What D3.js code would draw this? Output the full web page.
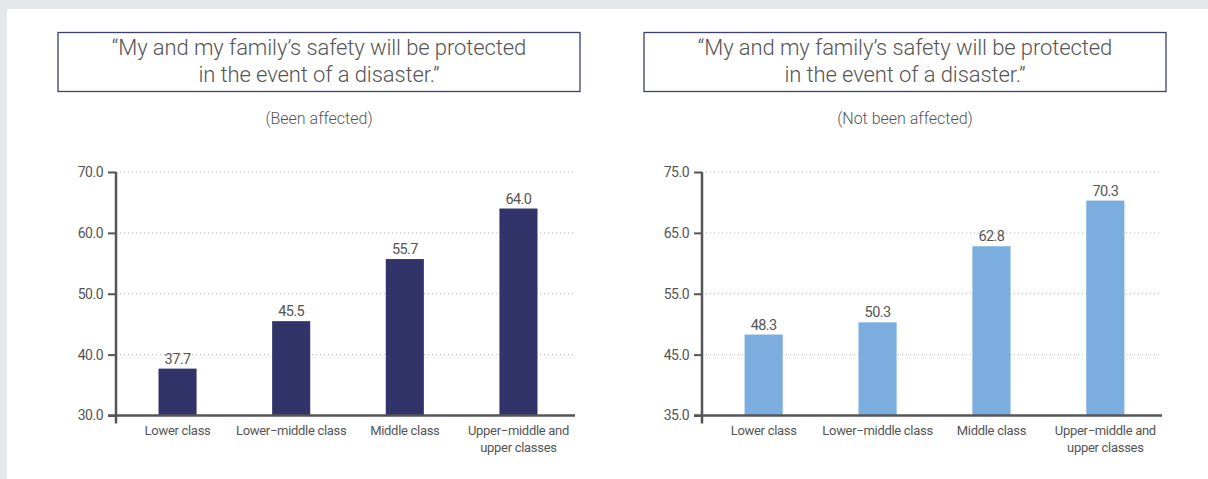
<!DOCTYPE html>
<html>
<head>
<meta charset="utf-8">
<script src="https://cdn.jsdelivr.net/npm/d3@7"></script>
<style>
  html, body { margin: 0; padding: 0; background: #e6e7e9; }
  svg { display: block; }
  text { font-family: Roboto, "Noto Sans", sans-serif; fill: #555; }
</style>
</head>
<body>
<div id="chart"></div>
<script>
// data
const categories = [
  ["Lower class"],
  ["Lower\u2212middle class"],
  ["Middle class"],
  ["Upper\u2212middle and", "upper classes"]
];
const titleLines = ["\u201cMy and my family\u2019s safety will be protected", "in the event of a disaster.\u201d"];

const affectedValues = [37.7, 45.5, 55.7, 64.0];
const affectedTicks = [30, 40, 50, 60, 70];

const notAffectedValues = [48.3, 50.3, 62.8, 70.3];
const notAffectedTicks = [35, 45, 55, 65, 75];

const width = 1208, height = 479;

const svg = d3.select('#chart')
  .append('svg')
  .attr('width', width)
  .attr('height', height);

// white panel
svg.append('rect')
  .attr('x', 7).attr('y', 9)
  .attr('width', width - 7).attr('height', height - 9)
  .attr('fill', '#fff');

drawPanel({
  left: 116, right: 575, boxX: 58, boxW: 522,
  subtitle: '(Been affected)',
  values: affectedValues, ticks: affectedTicks,
  color: '#323369'
});

drawPanel({
  left: 702, right: 1162, boxX: 644, boxW: 522,
  subtitle: '(Not been affected)',
  values: notAffectedValues, ticks: notAffectedTicks,
  color: '#7badde'
});

function drawPanel(o) {
  const g = svg.append('g');
  const top = 172, bottom = 415.5;
  const cx = o.boxX + o.boxW / 2;

  // title box
  g.append('rect')
    .attr('x', o.boxX).attr('y', 32.5)
    .attr('width', o.boxW).attr('height', 59)
    .attr('fill', 'none')
    .attr('stroke', '#3c3d70')
    .attr('stroke-width', 1.3);

  g.selectAll('.title')
    .data(titleLines)
    .enter()
    .append('text')
    .attr('class', 'title')
    .attr('x', cx)
    .attr('y', (d, i) => 55 + i * 27)
    .attr('text-anchor', 'middle')
    .attr('font-size', 22)
    .attr('font-weight', 300)
    .attr('letter-spacing', -0.1)
    .style('fill', '#555')
    .text(d => d);

  g.append('text')
    .attr('x', cx)
    .attr('y', 124)
    .attr('text-anchor', 'middle')
    .attr('font-size', 16)
    .attr('font-weight', 300)
    .style('fill', '#555')
    .text(o.subtitle);

  const y = d3.scaleLinear()
    .domain([o.ticks[0], o.ticks[o.ticks.length - 1]])
    .range([bottom, top]);

  const x = d3.scaleBand()
    .domain(d3.range(o.values.length))
    .range([o.left + 5, o.right])
    .paddingInner(0.665)
    .paddingOuter(0.33);

  // dotted grid
  g.selectAll('.grid')
    .data(o.ticks.slice(1))
    .enter()
    .append('line')
    .attr('x1', o.left + 4).attr('x2', o.right)
    .attr('y1', d => y(d)).attr('y2', d => y(d))
    .attr('stroke', '#b5b5b5')
    .attr('stroke-width', 1)
    .attr('stroke-dasharray', '1,3');

  // bars
  g.selectAll('.bar')
    .data(o.values)
    .enter()
    .append('rect')
    .attr('x', (d, i) => x(i))
    .attr('width', x.bandwidth())
    .attr('y', d => y(d))
    .attr('height', d => bottom - y(d))
    .attr('fill', o.color);

  g.selectAll('.val')
    .data(o.values)
    .enter()
    .append('text')
    .attr('x', (d, i) => x(i) + x.bandwidth() / 2)
    .attr('y', d => y(d) - 5)
    .attr('text-anchor', 'middle')
    .attr('font-size', 14.5)
    .attr('letter-spacing', -0.6)
    .text(d => d.toFixed(1));

  // y axis
  const yAxis = d3.axisLeft(y)
    .tickValues(o.ticks)
    .tickSize(8)
    .tickPadding(5)
    .tickFormat(d3.format('.1f'));

  const ay = g.append('g')
    .attr('transform', `translate(${o.left},0)`)
    .call(yAxis);
  ay.select('.domain').remove();
  ay.selectAll('.tick line').attr('stroke', '#555').attr('stroke-width', 2);
  ay.selectAll('.tick text')
    .attr('font-size', 14)
    .attr('letter-spacing', -0.5)
    .attr('font-family', null)
    .attr('fill', null);

  ay.append('line')
    .attr('x1', 0).attr('x2', 0)
    .attr('y1', top).attr('y2', bottom + 8)
    .attr('stroke', '#555')
    .attr('stroke-width', 2.5);

  // baseline
  g.append('line')
    .attr('x1', o.left - 8).attr('x2', o.right)
    .attr('y1', bottom).attr('y2', bottom)
    .attr('stroke', '#555')
    .attr('stroke-width', 2.5);

  // category labels
  const cat = g.selectAll('.cat')
    .data(categories)
    .enter()
    .append('text')
    .attr('text-anchor', 'middle')
    .attr('font-size', 13)
    .attr('letter-spacing', -0.3)
    .attr('transform', (d, i) => `translate(${x(i) + x.bandwidth() / 2},${bottom + 19})`);

  cat.selectAll('tspan')
    .data(d => d)
    .enter()
    .append('tspan')
    .attr('x', 0)
    .attr('dy', (d, i) => i === 0 ? 0 : 17)
    .text(d => d);
}
</script>
</body>
</html>
